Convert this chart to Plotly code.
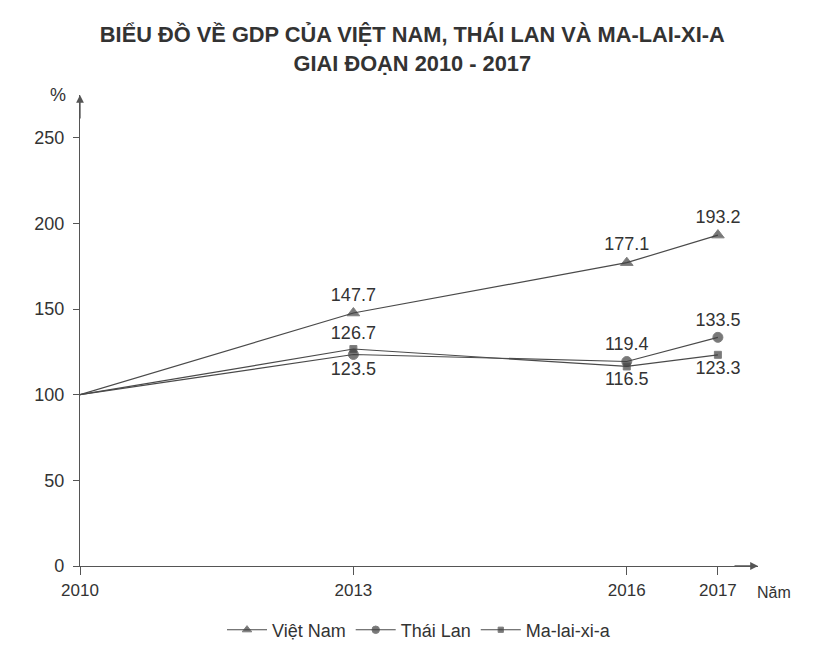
import plotly.graph_objects as go

years = [2010, 2013, 2016, 2017]
viet_nam = [100, 147.7, 177.1, 193.2]
thai_lan = [100, 123.5, 119.4, 133.5]
malaysia = [100, 126.7, 116.5, 123.3]
y_ticks = [0, 50, 100, 150, 200, 250]

def labels(vals):
    return ["" if i == 0 else f"{v:.1f}" for i, v in enumerate(vals)]

def sizes(vals, s):
    return [0 if i == 0 else s for i, _ in enumerate(vals)]

line_col = "#4a4a4a"
mark_col = "#404040"
txt_col = "#333333"
lab_font = dict(family="Liberation Sans, Arial", size=18, color=txt_col)

fig = go.Figure()
fig.add_trace(go.Scatter(
    x=years, y=viet_nam, name="Việt Nam", mode="lines+markers+text",
    text=labels(viet_nam), textposition=["top center"] * 4,
    line=dict(color=line_col, width=1.2),
    marker=dict(symbol="triangle-up", size=sizes(viet_nam, 11), color=mark_col),
    textfont=lab_font, cliponaxis=False))
fig.add_trace(go.Scatter(
    x=years, y=thai_lan, name="Thái Lan", mode="lines+markers+text",
    text=labels(thai_lan), textposition=["top center", "bottom center", "top center", "top center"],
    line=dict(color=line_col, width=1.2),
    marker=dict(symbol="circle", size=sizes(thai_lan, 10), color=mark_col),
    textfont=lab_font, cliponaxis=False))
fig.add_trace(go.Scatter(
    x=years, y=malaysia, name="Ma-lai-xi-a", mode="lines+markers+text",
    text=labels(malaysia), textposition=["top center", "top center", "bottom center", "bottom center"],
    line=dict(color=line_col, width=1.2),
    marker=dict(symbol="square", size=sizes(malaysia, 7), color=mark_col),
    textfont=lab_font, cliponaxis=False))

axis_col = "#555555"
fig.update_layout(
    width=838, height=651,
    margin=dict(l=80, r=80, t=95, b=85, autoexpand=False),
    paper_bgcolor="white", plot_bgcolor="white",
    title=dict(
        text="<b>BIỂU ĐỒ VỀ GDP CỦA VIỆT NAM, THÁI LAN VÀ MA-LAI-XI-A<br>GIAI ĐOẠN 2010 - 2017</b>",
        x=0.492, xanchor="center", y=0.935, yanchor="top", yref="container",
        font=dict(family="Liberation Sans, Arial", size=21.8, color=txt_col)),
    xaxis=dict(
        range=[2010, 2017.44], tickmode="array", tickvals=years,
        ticktext=[str(y) for y in years],
        showgrid=False, zeroline=False, showline=True, linecolor=axis_col, linewidth=1.3,
        ticks="outside", ticklen=8, tickcolor=axis_col, tickwidth=1,
        tickfont=dict(family="Liberation Sans, Arial", size=17, color=txt_col)),
    yaxis=dict(
        range=[0, 275], tickmode="array", tickvals=y_ticks,
        showgrid=False, zeroline=False, showline=True, linecolor=axis_col, linewidth=1.3,
        ticks="outside", ticklen=6, tickcolor=axis_col, tickwidth=1, ticklabelstandoff=5,
        tickfont=dict(family="Liberation Sans, Arial", size=18, color=txt_col)),
    legend=dict(orientation="h", x=0.5, xanchor="center", y=-0.136, yanchor="middle",
                font=dict(family="Liberation Sans, Arial", size=18, color=txt_col),
                itemwidth=40, traceorder="normal"),
    showlegend=True,
)

fig.add_annotation(x=2010, y=275, xref="x", yref="y", ax=0, ay=25, text="",
                   showarrow=True, arrowhead=2, arrowsize=1.2, arrowwidth=1.3, arrowcolor=axis_col)
fig.add_annotation(x=2017.44, y=0, xref="x", yref="y", ax=-25, ay=0, text="",
                   showarrow=True, arrowhead=2, arrowsize=1.2, arrowwidth=1.3, arrowcolor=axis_col)
fig.add_annotation(x=-0.018, y=275, xref="paper", yref="y", text="%", showarrow=False,
                   xanchor="right", yanchor="middle",
                   font=dict(family="Liberation Sans, Arial", size=18, color=txt_col))
fig.add_annotation(x=0.9956, y=0, xref="paper", yref="y", yshift=-26, text="Năm", showarrow=False,
                   xanchor="left", yanchor="middle",
                   font=dict(family="Liberation Sans, Arial", size=16, color=txt_col))

fig.write_html("out.html")
